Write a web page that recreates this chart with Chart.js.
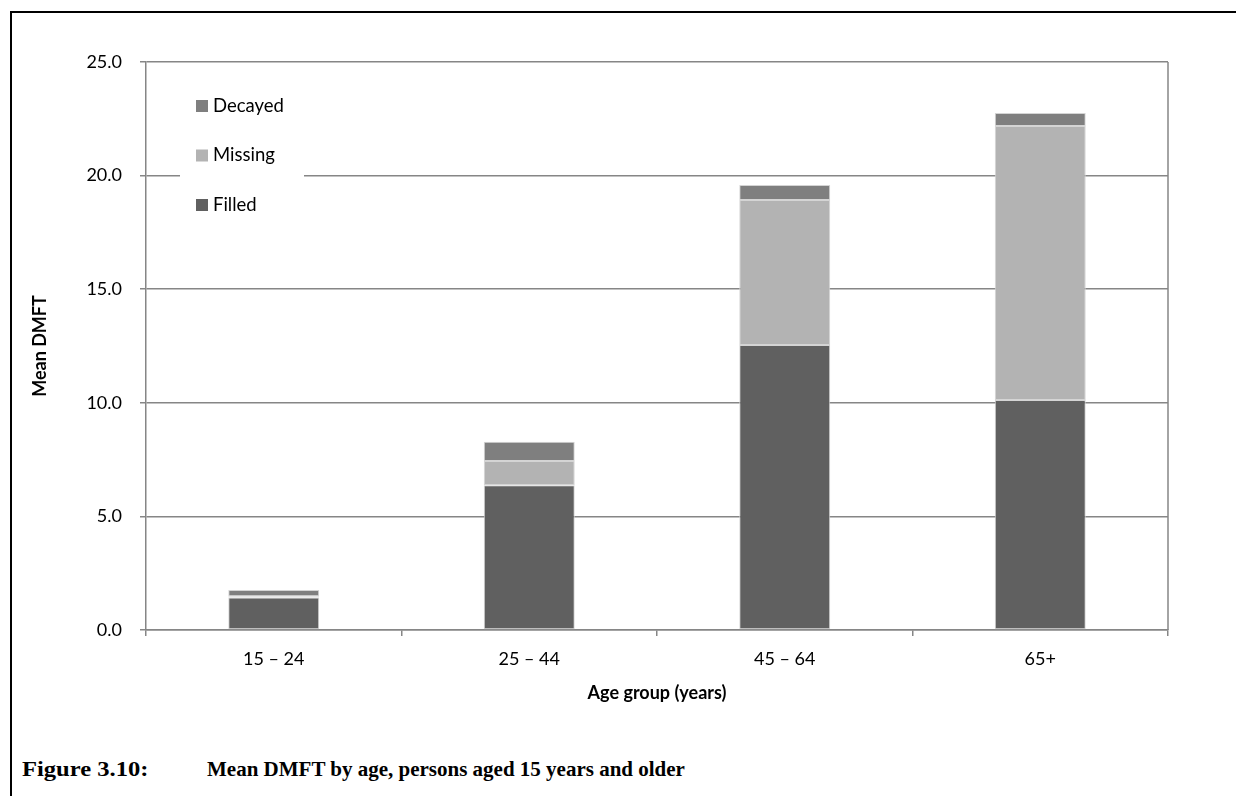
<!DOCTYPE html>
<html lang="en">

<head>
    <meta charset="UTF-8">
    <title>Mean DMFT by age</title>
    <script src="https://cdn.jsdelivr.net/npm/chart.js"></script>
    <style>
        body { margin: 0; background: #fff; width: 1236px; height: 796px; overflow: hidden; position: relative; }
        #frame { position: absolute; left: 10px; top: 11px; width: 1300px; height: 900px; border-left: 2px solid #000; border-top: 2px solid #000; }
        #chart-box { position: absolute; left: 0; top: 0; width: 1236px; height: 720px; }
        .caption { position: absolute; top: 757px; font-family: "Liberation Serif", serif; font-weight: bold; font-size: 21px; color: #000; white-space: nowrap; }
    </style>
</head>

<body>
    <div id="frame"></div>
    <div id="chart-box"><canvas id="dmft-chart" width="1236" height="720"></canvas></div>
    <div class="caption" style="left:22px; transform:scaleX(1.17); transform-origin:left center">Figure 3.10:</div>
    <div class="caption" style="left:207px">Mean DMFT by age, persons aged 15 years and older</div>
    <script>
        // data
        const ageGroups = ["15 \u2013 24", "25 \u2013 44", "45 \u2013 64", "65+"];
        const filled = [1.43, 6.37, 12.54, 10.12];
        const missing = [0.06, 1.07, 6.39, 12.06];
        const decayed = [0.27, 0.85, 0.66, 0.57];
        const yTicks = [0, 5, 10, 15, 20, 25];

        const axisGrey = "#868686";
        const labelFont = "Lato";

        // legend box drawn inside the plot, top left (Decayed, Missing, Filled)
        const insideLegend = {
            id: "insideLegend",
            afterDatasetsDraw(chart) {
                const ctx = chart.ctx;
                const area = chart.chartArea;
                const items = chart.data.datasets.slice().reverse();
                const x0 = area.left + 34, y0 = area.top + 18;
                ctx.save();
                ctx.fillStyle = "#fff";
                ctx.fillRect(x0, y0, 124, 148);
                ctx.font = "18.5px " + labelFont;
                ctx.textBaseline = "middle";
                items.forEach((ds, i) => {
                    const cy = y0 + 26 + i * 49.5;
                    ctx.fillStyle = ds.backgroundColor;
                    ctx.fillRect(x0 + 16, cy - 6, 12, 12);
                    ctx.fillStyle = "#000";
                    ctx.fillText(ds.label, x0 + 33, cy);
                });
                // right border of the plot area
                ctx.strokeStyle = axisGrey;
                ctx.lineWidth = 1.5;
                ctx.beginPath();
                ctx.moveTo(area.right, area.top);
                ctx.lineTo(area.right, area.bottom);
                ctx.stroke();
                ctx.restore();
            }
        };

        const ctx = document.getElementById("dmft-chart").getContext("2d");
        new Chart(ctx, {
            type: "bar",
            data: {
                labels: ageGroups,
                datasets: [
                    { label: "Filled", data: filled, backgroundColor: "#606060" },
                    { label: "Missing", data: missing, backgroundColor: "#b3b3b3" },
                    { label: "Decayed", data: decayed, backgroundColor: "#7f7f7f" },
                ].map(ds => Object.assign(ds, {
                    borderColor: "#d4d4d4",
                    borderWidth: 1,
                    borderSkipped: false,
                    categoryPercentage: 1,
                    barPercentage: 0.356,
                })),
            },
            options: {
                responsive: false,
                animation: false,
                layout: { padding: { top: 62, right: 68, left: 0, bottom: 0 } },
                plugins: { legend: { display: false }, tooltip: { enabled: false } },
                scales: {
                    x: {
                        stacked: true,
                        afterFit: s => { s.height = 90; },
                        grid: { offset: true, drawOnChartArea: false, drawTicks: true, tickLength: 6, color: axisGrey, lineWidth: 1.5 },
                        border: { color: axisGrey, width: 1.5 },
                        ticks: { color: "#000", font: { family: labelFont, size: 18 }, padding: 12 },
                        title: { display: true, text: "Age group (years)", color: "#000", font: { family: labelFont, size: 18, weight: "bold" }, padding: { top: 0, bottom: 16 } },
                    },
                    y: {
                        stacked: true,
                        min: 0,
                        max: 25,
                        afterFit: s => { s.width = 146; },
                        afterBuildTicks: s => { s.ticks = yTicks.map(v => ({ value: v })); },
                        grid: { color: axisGrey, lineWidth: 1.5, tickLength: 6 },
                        border: { color: axisGrey, width: 1.5 },
                        ticks: { color: "#000", font: { family: labelFont, size: 18 }, padding: 18, callback: v => v.toFixed(1) },
                        title: { display: true, text: "Mean DMFT", color: "#000", font: { family: labelFont, size: 18, weight: "bold" }, padding: { top: 29, bottom: 0 } },
                    },
                },
            },
            plugins: [insideLegend],
        });
    </script>
</body>

</html>
